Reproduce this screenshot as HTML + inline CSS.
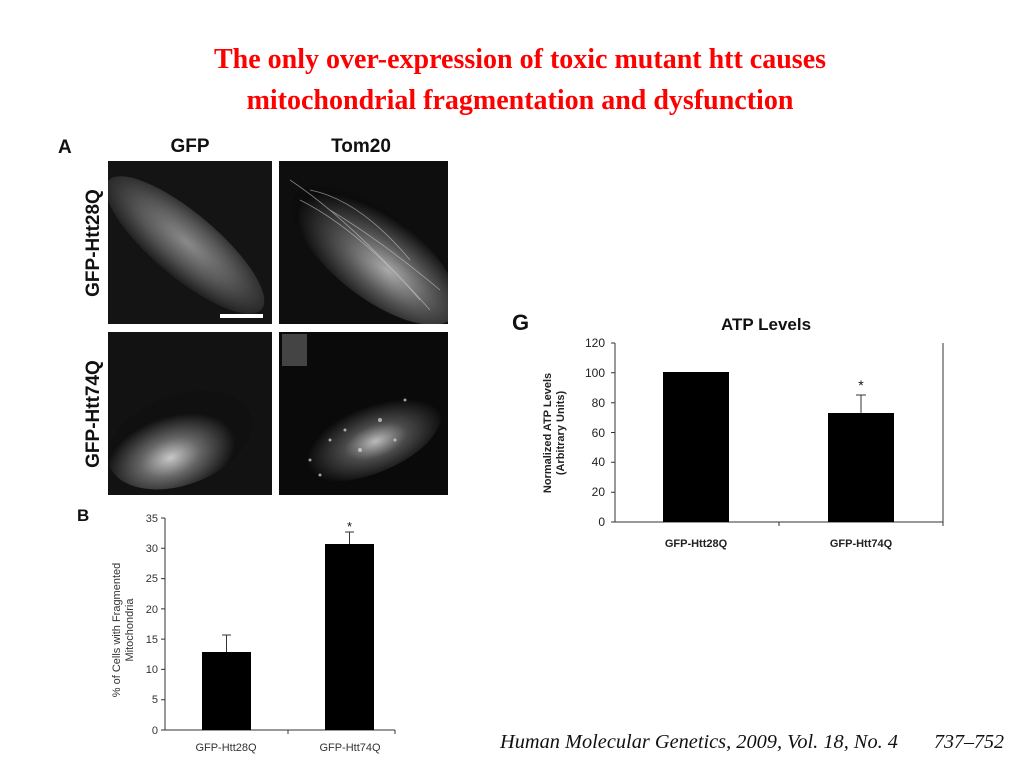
<!DOCTYPE html>
<html><head><meta charset="utf-8"><style>
html,body{margin:0;padding:0;background:#fff;}
svg{display:block;}
</style></head><body>
<svg width="1024" height="768" viewBox="0 0 1024 768" xmlns="http://www.w3.org/2000/svg">
<defs>
<radialGradient id="g1" cx="0.5" cy="0.45" r="0.6"><stop offset="0" stop-color="#8a8a8a"/><stop offset="0.5" stop-color="#555"/><stop offset="1" stop-color="#151515"/></radialGradient>
<radialGradient id="g2" cx="0.6" cy="0.55" r="0.55"><stop offset="0" stop-color="#aaa"/><stop offset="0.5" stop-color="#555"/><stop offset="1" stop-color="#0c0c0c"/></radialGradient>
<radialGradient id="g3" cx="0.4" cy="0.65" r="0.45"><stop offset="0" stop-color="#c8c8c8"/><stop offset="0.45" stop-color="#666"/><stop offset="1" stop-color="#101010"/></radialGradient>
<radialGradient id="g4" cx="0.55" cy="0.62" r="0.45"><stop offset="0" stop-color="#bbb"/><stop offset="0.45" stop-color="#4a4a4a"/><stop offset="1" stop-color="#0a0a0a"/></radialGradient>
<clipPath id="c1"><rect x="108" y="161" width="164" height="163"/></clipPath>
<clipPath id="c2"><rect x="279" y="161" width="169" height="163"/></clipPath>
<clipPath id="c3"><rect x="108" y="332" width="164" height="163"/></clipPath>
<clipPath id="c4"><rect x="279" y="332" width="169" height="163"/></clipPath>
</defs>
<g font-family="Liberation Serif, serif" font-weight="bold" fill="#ff0000" font-size="28" text-anchor="middle">
<text x="520" y="68">The only over-expression of toxic mutant htt causes</text>
<text x="520" y="109">mitochondrial fragmentation and dysfunction</text>
</g>
<g font-family="Liberation Sans, sans-serif" font-weight="bold" fill="#111">
<text x="58" y="153" font-size="19">A</text>
<text x="190" y="152" font-size="19" text-anchor="middle">GFP</text>
<text x="361" y="152" font-size="19" text-anchor="middle">Tom20</text>
<text transform="translate(99,243) rotate(-90)" font-size="19" text-anchor="middle">GFP-Htt28Q</text>
<text transform="translate(99,414) rotate(-90)" font-size="19" text-anchor="middle">GFP-Htt74Q</text>
</g>
<rect x="108" y="161" width="164" height="163" fill="#141414"/>
<g clip-path="url(#c1)"><ellipse cx="185" cy="245" rx="100" ry="32" transform="rotate(40 185 245)" fill="url(#g1)"/></g>
<rect x="220" y="314" width="43" height="4" fill="#fff"/>
<rect x="279" y="161" width="169" height="163" fill="#0e0e0e"/>
<g clip-path="url(#c2)">
<ellipse cx="375" cy="255" rx="100" ry="42" transform="rotate(38 375 255)" fill="url(#g2)"/>
<g stroke="#cfcfcf" stroke-width="0.8" opacity="0.6" fill="none">
<path d="M290 180 Q350 220 420 300"/><path d="M300 200 Q360 230 430 310"/><path d="M330 210 Q380 240 440 290"/><path d="M310 190 Q360 200 410 260"/>
</g>
</g>
<rect x="108" y="332" width="164" height="163" fill="#121212"/>
<g clip-path="url(#c3)"><ellipse cx="180" cy="440" rx="75" ry="45" transform="rotate(-20 180 440)" fill="url(#g3)"/></g>
<rect x="279" y="332" width="169" height="163" fill="#0a0a0a"/>
<rect x="282" y="334" width="25" height="32" fill="#444"/>
<g clip-path="url(#c4)"><ellipse cx="365" cy="435" rx="80" ry="40" transform="rotate(-20 365 435)" fill="url(#g4)"/></g>
<g fill="#ddd" opacity="0.7">
<circle cx="330" cy="440" r="1.5"/><circle cx="345" cy="430" r="1.5"/><circle cx="380" cy="420" r="2"/><circle cx="395" cy="440" r="1.5"/><circle cx="310" cy="460" r="1.5"/><circle cx="360" cy="450" r="2"/><circle cx="405" cy="400" r="1.5"/><circle cx="320" cy="475" r="1.5"/>
</g>
<g font-family="Liberation Sans, sans-serif">
<text x="77" y="521" font-size="17" font-weight="bold" fill="#111">B</text>
<g stroke="#333" stroke-width="1" fill="none">
<path d="M165 518 V730 H395"/>
<path d="M161 518H165M161 548.3H165M161 578.6H165M161 608.9H165M161 639.1H165M161 669.4H165M161 699.7H165M161 730H165"/>
<path d="M288 730V734M395 730V734"/>
<path d="M226.5 652V635M222 635H231M349.5 544V532M345 532H354"/>
</g>
<rect x="202" y="652" width="49" height="78" fill="#000"/>
<rect x="325" y="544" width="49" height="186" fill="#000"/>
<g font-size="11" fill="#333" text-anchor="end">
<text x="158" y="522">35</text><text x="158" y="552">30</text><text x="158" y="582">25</text><text x="158" y="613">20</text><text x="158" y="643">15</text><text x="158" y="673">10</text><text x="158" y="703">5</text><text x="158" y="734">0</text>
</g>
<text x="349.5" y="531" font-size="13" text-anchor="middle" fill="#111">*</text>
<g font-size="11" fill="#333" text-anchor="middle">
<text x="226" y="751">GFP-Htt28Q</text><text x="350" y="751">GFP-Htt74Q</text>
<text transform="translate(120,630) rotate(-90)">% of Cells with Fragmented</text>
<text transform="translate(133,630) rotate(-90)">Mitochondria</text>
</g>
</g>
<g font-family="Liberation Sans, sans-serif">
<text x="512" y="330" font-size="22" font-weight="bold" fill="#111">G</text>
<text x="766" y="330" font-size="17" font-weight="bold" fill="#111" text-anchor="middle">ATP Levels</text>
<g stroke="#333" stroke-width="1" fill="none">
<path d="M615 343 V522 H943 V343"/>
<path d="M611 343H615M611 372.8H615M611 402.7H615M611 432.5H615M611 462.3H615M611 492.2H615M611 522H615"/>
<path d="M779 522V526M943 522V526"/>
<path d="M861 413V395M856 395H866"/>
</g>
<rect x="663" y="372" width="66" height="150" fill="#000"/>
<rect x="828" y="413" width="66" height="109" fill="#000"/>
<g font-size="12" fill="#222" text-anchor="end">
<text x="605" y="347">120</text><text x="605" y="377">100</text><text x="605" y="407">80</text><text x="605" y="437">60</text><text x="605" y="466">40</text><text x="605" y="496">20</text><text x="605" y="526">0</text>
</g>
<text x="861" y="390" font-size="14" text-anchor="middle" fill="#111">*</text>
<g font-size="11" font-weight="bold" fill="#222" text-anchor="middle">
<text x="696" y="547">GFP-Htt28Q</text><text x="861" y="547">GFP-Htt74Q</text>
<text transform="translate(551,433) rotate(-90)">Normalized ATP Levels</text>
<text transform="translate(564,433) rotate(-90)">(Arbitrary Units)</text>
</g>
</g>
<g font-family="Liberation Serif, serif" font-style="italic" font-size="20" fill="#111">
<text x="500" y="748" textLength="398" lengthAdjust="spacingAndGlyphs">Human Molecular Genetics, 2009, Vol. 18, No. 4</text>
<text x="1004" y="748" text-anchor="end">737–752</text>
</g>
</svg>
</body></html>
